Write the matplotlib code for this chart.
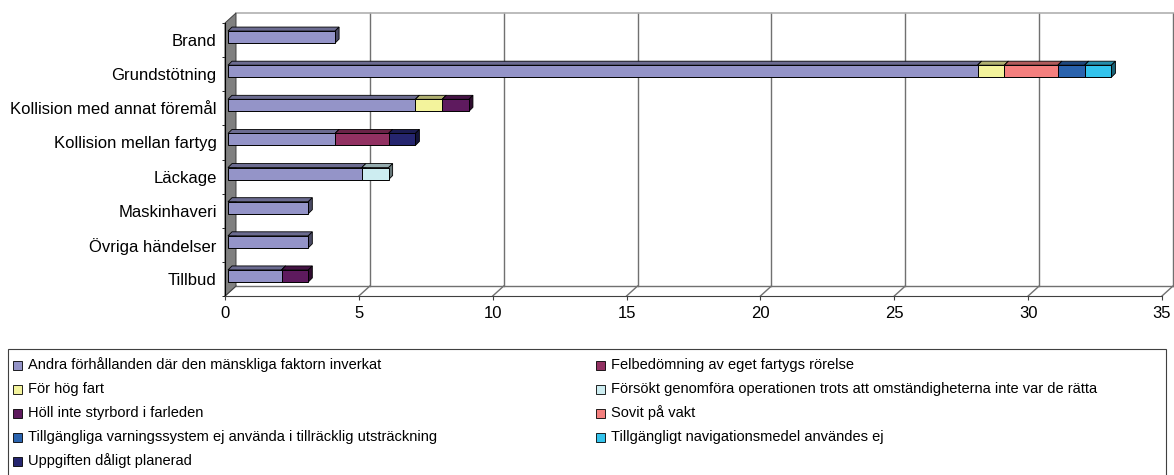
import numpy as np
import matplotlib
matplotlib.use('Agg')
import matplotlib.pyplot as plt
from matplotlib.patches import Polygon, Rectangle
from matplotlib.colors import to_rgb

plt.rcParams['font.family'] = ['Liberation Sans', 'DejaVu Sans']

# kategorier (uppifrån och ned)
categories = ['Brand', 'Grundstötning', 'Kollision med annat föremål',
              'Kollision mellan fartyg', 'Läckage', 'Maskinhaveri',
              'Övriga händelser', 'Tillbud']

series_names = [
    'Andra förhållanden där den mänskliga faktorn inverkat',
    'Felbedömning av eget fartygs rörelse',
    'För hög fart',
    'Försökt genomföra operationen trots att omständigheterna inte var de rätta',
    'Höll inte styrbord i farleden',
    'Sovit på vakt',
    'Tillgängliga varningssystem ej använda i tillräcklig utsträckning',
    'Tillgängligt navigationsmedel användes ej',
    'Uppgiften dåligt planerad',
]

andra = [4, 28, 7, 4, 5, 3, 3, 2]
felbedomning = [0, 0, 0, 2, 0, 0, 0, 0]
for_hog_fart = [0, 1, 1, 0, 0, 0, 0, 0]
forsokt = [0, 0, 0, 0, 1, 0, 0, 0]
holl_inte = [0, 0, 1, 0, 0, 0, 0, 1]
sovit = [0, 2, 0, 0, 0, 0, 0, 0]
varningssystem = [0, 1, 0, 0, 0, 0, 0, 0]
navigationsmedel = [0, 1, 0, 0, 0, 0, 0, 0]
uppgiften = [0, 0, 0, 1, 0, 0, 0, 0]

series_values = [andra, felbedomning, for_hog_fart, forsokt, holl_inte,
                 sovit, varningssystem, navigationsmedel, uppgiften]

colors = ['#9494C8', '#923162', '#F3F39C', '#CDEDF1', '#5E1A5E',
          '#F47F7E', '#2A63AE', '#33C3EC', '#25256F']

xticks = [0, 5, 10, 15, 20, 25, 30, 35]

W, H = 1174, 475
fig = plt.figure(figsize=(W / 100, H / 100), dpi=100)

# framkant av diagrammet i pixlar
ax_left, ax_right, ax_top, ax_bottom = 225, 1162, 23, 296
ax = fig.add_axes([ax_left / W, (H - ax_bottom) / H,
                   (ax_right - ax_left) / W, (ax_bottom - ax_top) / H])
ax.set_xlim(0, 35)
ax.set_ylim(len(categories) - 0.5, -0.5)

# pixel -> dataenheter
ux = 35 / (ax_right - ax_left)
uy = len(categories) / (ax_bottom - ax_top)
bdx, bdy = 11 * ux, -10 * uy      # bakväggens förskjutning
sdx, sdy = 3 * ux, -3 * uy        # staplarnas förskjutning
ddx, ddy = 4 * ux, -4 * uy        # staplarnas djup
bar_h = 12 * uy

y0, y1 = -0.5, len(categories) - 0.5
grid_c = '#707070'

# bakvägg
for v in xticks[1:]:
    ax.plot([v + bdx, v + bdx], [y1 + bdy, y0 + bdy], color=grid_c, lw=1.0,
            zorder=1, clip_on=False)
ax.plot([bdx, 35 + bdx], [y0 + bdy, y0 + bdy], color='#b0b0b0', lw=1.2,
        zorder=1, clip_on=False)
# golv
ax.plot([bdx, 35 + bdx], [y1 + bdy, y1 + bdy], color=grid_c, lw=1.0,
        zorder=1, clip_on=False)
for v in xticks:
    ax.plot([v, v + bdx], [y1, y1 + bdy], color=grid_c, lw=1.0,
            zorder=1, clip_on=False)
# vänstervägg
ax.add_patch(Polygon([(0, y0), (bdx, y0 + bdy), (bdx, y1 + bdy), (0, y1)],
                     closed=True, facecolor='#808080', edgecolor='#404040',
                     lw=0.7, zorder=2, clip_on=False))

# staplar med 3D-effekt
y_pos = np.arange(len(categories))
left = np.zeros(len(categories))
for j, (vals, c) in enumerate(zip(series_values, colors)):
    vals = np.array(vals, dtype=float)
    rgb = np.array(to_rgb(c))
    top_c = rgb * 0.72
    side_c = rgb * 0.5
    z = 3 + j * 0.1
    idx = np.nonzero(vals)[0]
    for i in idx:
        L = left[i] + sdx
        R = L + vals[i]
        T = y_pos[i] + sdy - bar_h / 2
        B = y_pos[i] + sdy + bar_h / 2
        ax.add_patch(Polygon([(L, T), (R, T), (R + ddx, T + ddy), (L + ddx, T + ddy)],
                             closed=True, facecolor=top_c, edgecolor='black',
                             lw=0.6, zorder=z, clip_on=False))
        ax.add_patch(Polygon([(R, T), (R + ddx, T + ddy), (R + ddx, B + ddy), (R, B)],
                             closed=True, facecolor=side_c, edgecolor='black',
                             lw=0.6, zorder=z, clip_on=False))
    ax.barh(y_pos[idx] + sdy, vals[idx], left=left[idx] + sdx, height=bar_h,
            color=c, edgecolor='black', lw=0.7, zorder=z + 0.05, clip_on=False)
    left += vals

# axlar
for s in ['top', 'right']:
    ax.spines[s].set_visible(False)
ax.spines['left'].set_color('black')
ax.spines['left'].set_zorder(2.5)
ax.spines['bottom'].set_color('#404040')
ax.set_yticks(y_pos)
ax.set_yticklabels(categories, fontsize=12)
ax.set_yticks(np.arange(len(categories) + 1) - 0.5, minor=True)
ax.tick_params(axis='y', which='major', length=0, pad=6)
ax.tick_params(axis='y', which='minor', length=2.5, color='black')
ax.set_xticks(xticks)
ax.set_xticklabels([str(v) for v in xticks], fontsize=12)
ax.tick_params(axis='x', length=3, pad=4.5, color='#404040')

# förklaring (två kolumner, radvis)
leg_top = 349
fig.add_artist(Rectangle((8 / W, -0.1), (1166 - 8) / W, (H - leg_top) / H + 0.1,
                         transform=fig.transFigure, facecolor='none',
                         edgecolor='#404040', lw=0.8))
col_x = [13, 596]
row_y0, row_dy = 365, 24
for k, (name, c) in enumerate(zip(series_names, colors)):
    r, col = divmod(k, 2)
    yc = row_y0 + r * row_dy
    mx = col_x[col]
    fig.add_artist(Rectangle((mx / W, (H - yc - 4.5) / H), 9 / W, 9 / H,
                             transform=fig.transFigure, facecolor=c,
                             edgecolor='black', lw=0.6))
    fig.text((mx + 15) / W, (H - yc) / H, name, fontsize=10.5,
             va='center', ha='left')

fig.savefig('out.png', dpi=100)
